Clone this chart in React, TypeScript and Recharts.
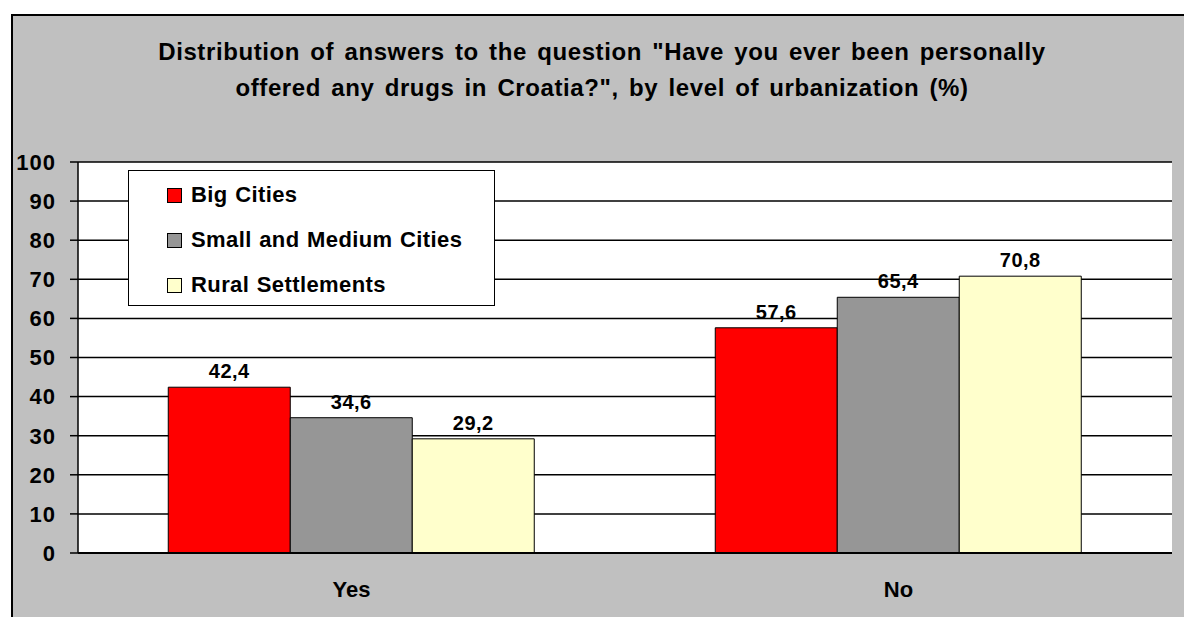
import React from 'react';
import { BarChart, Bar, XAxis, YAxis, CartesianGrid, LabelList } from 'recharts';

const categories = ['Yes', 'No'];
const bigCities = [42.4, 57.6];
const smallMediumCities = [34.6, 65.4];
const ruralSettlements = [29.2, 70.8];
const yTicks = [0, 10, 20, 30, 40, 50, 60, 70, 80, 90, 100];

const series = [
  { id: 'big', name: 'Big Cities', color: '#ff0000' },
  { id: 'small', name: 'Small and Medium Cities', color: '#969696' },
  { id: 'rural', name: 'Rural Settlements', color: '#ffffcc' }
];

const data = categories.map((c, i) => ({
  name: c,
  big: bigCities[i],
  small: smallMediumCities[i],
  rural: ruralSettlements[i]
}));

const FONT = '"Liberation Sans", Arial, sans-serif';

const commaFmt = (v: any) => String(v).replace('.', ',');

const ChartLegend = () => (
  <div
    style={{
      position: 'absolute',
      left: 128,
      top: 170,
      width: 365,
      height: 134,
      background: '#fff',
      border: '1px solid #000'
    }}
  >
    {series.map((s, i) => (
      <div
        key={s.id}
        style={{
          position: 'absolute',
          left: 38,
          top: 10 + i * 45,
          height: 28,
          display: 'flex',
          alignItems: 'center',
          fontFamily: FONT,
          fontWeight: 'bold',
          fontSize: 22,
          letterSpacing: 0.4,
          wordSpacing: 1,
          color: '#000',
          whiteSpace: 'nowrap'
        }}
      >
        <div
          style={{
            width: 13,
            height: 13,
            background: s.color,
            border: '1px solid #000',
            marginRight: 9
          }}
        />
        <span>{s.name}</span>
      </div>
    ))}
  </div>
);

export default function App() {
  return (
    <div style={{ position: 'absolute', left: 0, top: 0, width: 1184, height: 617, background: '#fff', overflow: 'hidden' }}>
      <div
        style={{
          position: 'absolute',
          left: 11,
          top: 14,
          width: 1180,
          height: 610,
          background: '#c0c0c0',
          borderLeft: '2px solid #000',
          borderTop: '2px solid #000'
        }}
      />
      <div
        style={{
          position: 'absolute',
          left: 0,
          top: 34,
          width: 1204,
          textAlign: 'center',
          fontFamily: FONT,
          fontWeight: 'bold',
          fontSize: 24,
          letterSpacing: 0.6,
          wordSpacing: 3,
          lineHeight: '36px',
          color: '#000'
        }}
      >
        Distribution of answers to the question "Have you ever been personally
        <br />
        offered any drugs in Croatia?", by level of urbanization (%)
      </div>
      <div style={{ position: 'absolute', left: 0, top: 0 }}>
        <BarChart
          width={1184}
          height={617}
          data={data}
          margin={{ top: 162, right: 12, bottom: 24, left: 8 }}
          barCategoryGap="16.5%"
          barGap={0}
        >
          <CartesianGrid vertical={false} stroke="#000" strokeWidth={1.5} fill="#fff" fillOpacity={1} />
          <XAxis
            dataKey="name"
            height={40}
            axisLine={{ stroke: '#000', strokeWidth: 2 }}
            tickLine={false}
            tickSize={0}
            tickMargin={28}
            tick={{ fill: '#000', fontFamily: FONT, fontWeight: 'bold', fontSize: 22 }}
          />
          <YAxis
            width={70}
            domain={[0, 100]}
            ticks={yTicks}
            interval={0}
            axisLine={{ stroke: '#000', strokeWidth: 1.5 }}
            tickLine={{ stroke: '#000', strokeWidth: 1.5 }}
            tickSize={8}
            tickMargin={14}
            tick={{ fill: '#000', fontFamily: FONT, fontWeight: 'bold', fontSize: 22, letterSpacing: 1 }}
          />
          {series.map(s => (
            <Bar
              key={s.id}
              dataKey={s.id}
              name={s.name}
              fill={s.color}
              stroke="#000"
              strokeWidth={1}
              isAnimationActive={false}
            >
              <LabelList
                dataKey={s.id}
                position="top"
                offset={9}
                formatter={commaFmt}
                style={{ fill: '#000', fontFamily: FONT, fontWeight: 'bold', fontSize: 20, letterSpacing: 0.5 }}
              />
            </Bar>
          ))}
        </BarChart>
      </div>
      <ChartLegend />
    </div>
  );
}
